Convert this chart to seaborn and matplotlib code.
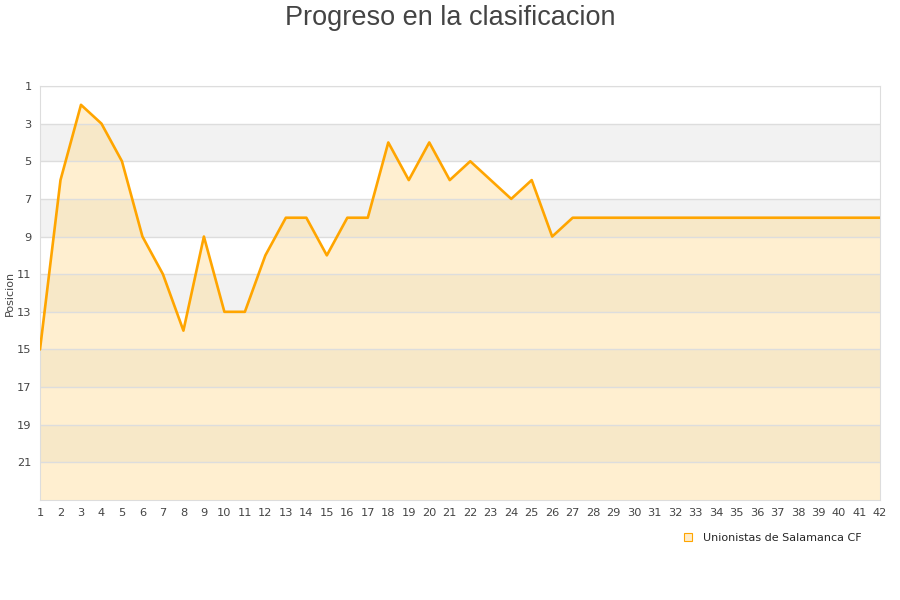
import seaborn as sns
import matplotlib.pyplot as plt
import numpy as np
import pandas as pd

# datos de la clasificacion
jornadas = list(range(1, 43))
posiciones = [15, 6, 2, 3, 5, 9, 11, 14, 9, 13, 13, 10, 8, 8, 10, 8, 8, 4, 6, 4,
              6, 5, 6, 7, 6, 9, 8, 8, 8, 8, 8, 8, 8, 8, 8, 8, 8, 8, 8, 8, 8, 8]
equipo = 'Unionistas de Salamanca CF'
y_ticks = list(range(1, 23, 2))

df = pd.DataFrame({'Jornada': jornadas, 'Posicion': posiciones})

sns.set_style('white')
plt.rcParams['font.family'] = ['DejaVu Sans']

fig = plt.figure(figsize=(9, 6), dpi=100)
ax = fig.add_axes([40 / 900, 1 - 500 / 600, 840 / 900, 414 / 600])

# bandas alternas
for y0 in range(3, 23, 4):
    ax.axhspan(y0, y0 + 2, color='#f2f2f2', zorder=0, lw=0)

ax.fill_between(df['Jornada'], df['Posicion'], 23, color='#ffd98a', alpha=0.4, lw=0, zorder=1)
sns.lineplot(data=df, x='Jornada', y='Posicion', color='#ffa500', linewidth=1.9, ax=ax,
             zorder=3, label=equipo)

ax.set_xlim(1, 42)
ax.set_ylim(23, 1)
ax.set_xticks(jornadas)
ax.set_yticks(y_ticks)
ax.tick_params(axis='both', labelsize=8.2, colors='#444444', length=0, pad=6)
ax.grid(axis='y', color='#dddddd', lw=1, zorder=2)
ax.set_axisbelow(False)
for s in ax.spines.values():
    s.set_color('#dddddd')
ax.set_xlabel('')
ax.set_ylabel('Posicion', fontsize=8, color='#444444', labelpad=2)

handle = plt.Rectangle((0, 0), 1, 1, facecolor='#ffecc8', edgecolor='#ffa500', lw=0.8)
ax.legend([handle], [equipo], loc='upper right', bbox_to_anchor=(0.99, -0.055),
          frameon=False, fontsize=8, handlelength=0.7, handleheight=0.7, handletextpad=1.0)

fig.suptitle('Progreso en la clasificacion', y=0.992, fontsize=19.5, color='#444444',
             family='Liberation Sans')

fig.savefig('out.png', dpi=100)
